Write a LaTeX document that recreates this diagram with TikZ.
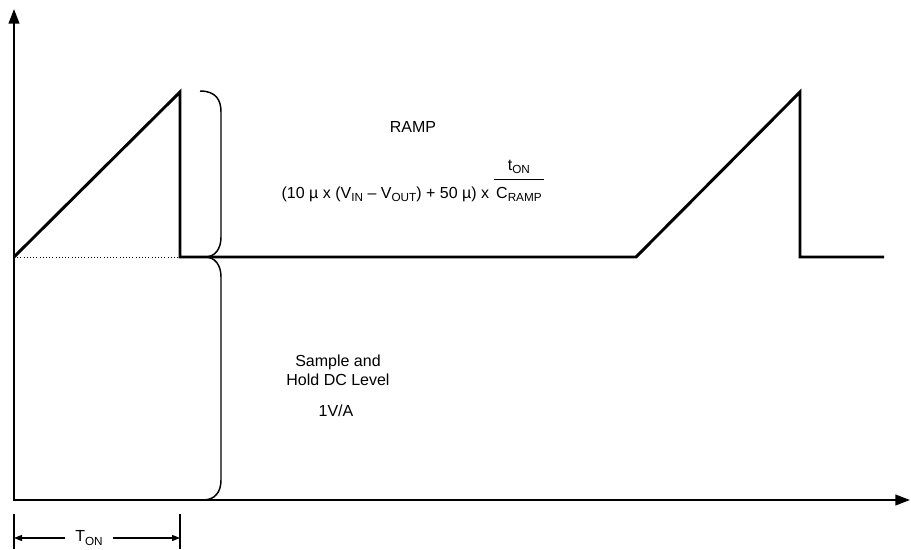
\documentclass[tikz,border=0pt]{standalone}
\usepackage{fontspec}
\setmainfont{Liberation Sans}
\usetikzlibrary{arrows.meta,positioning}
\newcommand{\lowsub}[1]{\raisebox{-0.4ex}{\fontsize{8.8}{10}\selectfont #1}}

\begin{document}
\begin{tikzpicture}[x=0.75pt,y=-0.75pt, font=\fontsize{12}{14}\selectfont,
  axis/.style={line width=1.5pt,-{Triangle[length=11pt,width=8pt]}},
  brace/.style={line width=1.1pt},
  dim/.style={line width=0.9pt,-{Triangle[length=6pt,width=4.5pt]}}]
\useasboundingbox (0,0) rectangle (911,550);
% axes
\draw[axis] (14,500) -- (14,9);
\draw[axis] (13,500) -- (910,500);
% waveform
\draw[dotted, thin] (14,257) -- (180,257);
\draw[line width=2.2pt] (14,257) -- (180,92) -- (180,257) -- (636,257) -- (800,92) -- (800,257) -- (884,257);
% braces
\draw[brace] (200,91) .. controls (216,91) and (221,100) .. (221,112) -- (221,237) .. controls (221,249) and (215,257) .. (205,257);
\draw[brace] (205,257) .. controls (215,257) and (221,265) .. (221,277) -- (221,480) .. controls (221,492) and (215,500) .. (203,500);
% labels
\node (ramp) at (413,127) {RAMP};
\node[anchor=base] (gain) at (413,198) {(10 µ x (V\lowsub{IN} – V\lowsub{OUT}) + 50 µ) x
  \renewcommand{\arraystretch}{1.45}\begin{tabular}[b]{@{\,}c@{\,}}t\lowsub{ON}\\\hline C\lowsub{RAMP}\end{tabular}};
\node[align=center] (hold) at (338,370) {Sample and\\Hold DC Level};
\node (scale) at (336,411) {1V/A};
% on time
\draw[line width=0.9pt] (14,514) -- (14,549);
\draw[line width=0.9pt] (180,514) -- (180,549);
\coordinate (tl) at (14,538);
\coordinate (tr) at (180,538);
\node (ton) at (89,538) {T\lowsub{ON}};
\draw[dim] (ton.west) ++(-4pt,0) -- (tl);
\draw[dim] (ton.east) ++(4pt,0) -- (tr);
\end{tikzpicture}
\end{document}
